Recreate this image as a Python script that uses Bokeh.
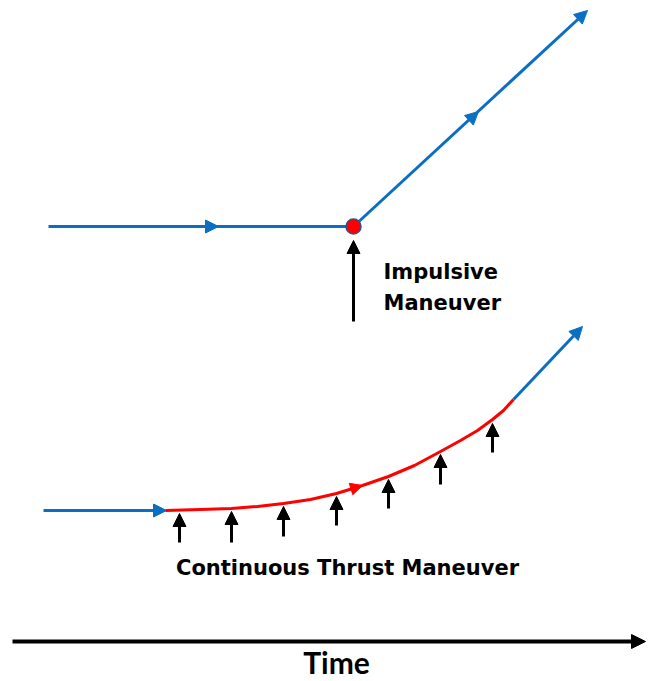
from bokeh.plotting import figure
from bokeh.models import Range1d, Arrow, NormalHead, ColumnDataSource
from bokeh.core.properties import value
from bokeh.embed import file_html
from bokeh.resources import INLINE

BLUE = "#0A6FC2"
RED = "#FF0000"

# ---- Impulsive maneuver (upper diagram) ----
imp_path_x = [48, 353, 587]
imp_path_y = [226, 226, 10]
imp_mid_tip_x = [218, 478]
imp_mid_tip_y = [226, 111]
burn_x = [353]
burn_y = [226]
imp_thrust_x = [353]
imp_thrust_bottom = [321]
imp_thrust_top = [240]

# ---- Continuous thrust maneuver (lower diagram) ----
coast_in_x = [43, 166]
coast_in_y = [510, 510]
burn_curve_x = [165, 200, 231, 257, 283, 310, 336, 362, 388, 414, 440, 460, 477, 492, 503, 513]
burn_curve_y = [510, 509, 508, 506, 503, 499, 493, 485, 476, 465, 451, 440, 430, 419, 410, 399]
coast_out_x = [513, 582]
coast_out_y = [399, 326]
thrust_x = [179, 231, 283, 336, 388, 440, 492]
thrust_bottom = [542, 542, 536, 525, 508, 484, 452]
thrust_top = [513, 511, 506, 496, 479, 454, 423]

# ---- Time axis ----
time_x = [12, 645]
time_y = [641, 641]

labels_text = ["Impulsive", "Maneuver"]
labels_x = [383, 383]
labels_y = [271, 302]

p = figure(width=649, height=681, x_range=Range1d(0, 649), y_range=Range1d(681, 0),
           output_backend="svg", toolbar_location=None, min_border=0,
           background_fill_color="white", border_fill_color="white")
p.axis.visible = False
p.grid.visible = False
p.outline_line_color = None

def arrow(xs, ys, xe, ye, color, lw, size, body=True):
    p.add_layout(Arrow(end=NormalHead(size=size, fill_color=color, line_color=color, line_width=1),
                       x_start=xs, y_start=ys, x_end=xe, y_end=ye, level="underlay",
                       line_color=color, line_width=lw, line_alpha=1.0 if body else 0.0))

# upper: path
p.line(imp_path_x[:2], imp_path_y[:2], line_color=BLUE, line_width=3)
arrow(imp_path_x[1], imp_path_y[1], imp_path_x[2], imp_path_y[2], BLUE, 3, 13)
arrow(imp_path_x[0], imp_path_y[0], imp_mid_tip_x[0], imp_mid_tip_y[0], BLUE, 3, 13, body=False)
arrow(imp_path_x[1], imp_path_y[1], imp_mid_tip_x[1], imp_mid_tip_y[1], BLUE, 3, 13, body=False)
arrow(imp_thrust_x[0], imp_thrust_bottom[0], imp_thrust_x[0], imp_thrust_top[0], "black", 3, 13)
p.scatter(burn_x, burn_y, size=15, fill_color=RED, line_color="#2F528F", line_width=1.5,
          level="overlay")

# lower
arrow(coast_in_x[0], coast_in_y[0], coast_in_x[1], coast_in_y[1], BLUE, 3, 13)
p.line(burn_curve_x, burn_curve_y, line_color=RED, line_width=3, line_join="round")
arrow(burn_curve_x[6], burn_curve_y[6], 362, 485, RED, 3, 12, body=False)
arrow(coast_out_x[0], coast_out_y[0], coast_out_x[1], coast_out_y[1], BLUE, 3, 13)
for x, yb, yt in zip(thrust_x, thrust_bottom, thrust_top):
    arrow(x, yb, x, yt, "black", 3, 13)

# time
arrow(time_x[0], time_y[0], time_x[1], time_y[1], "black", 4, 14)

src = ColumnDataSource(dict(x=labels_x, y=labels_y, t=labels_text))
p.text("x", "y", text="t", source=src, text_font=value("DejaVu Sans"), text_font_style="bold",
       text_font_size="21px", text_color="black", text_baseline="alphabetic", text_align="left")
p.text([347], [567], text=["Continuous Thrust Maneuver"], text_font=value("DejaVu Sans"),
       text_font_style="bold", text_font_size="21px", text_color="black",
       text_baseline="alphabetic", text_align="center")
p.text([336], [661], text=["Time"], text_font=value("Lato"), text_font_style="bold",
       text_font_size="30px", text_color="black", text_baseline="alphabetic", text_align="center")

open("out.html", "w").write(file_html(p, INLINE))
